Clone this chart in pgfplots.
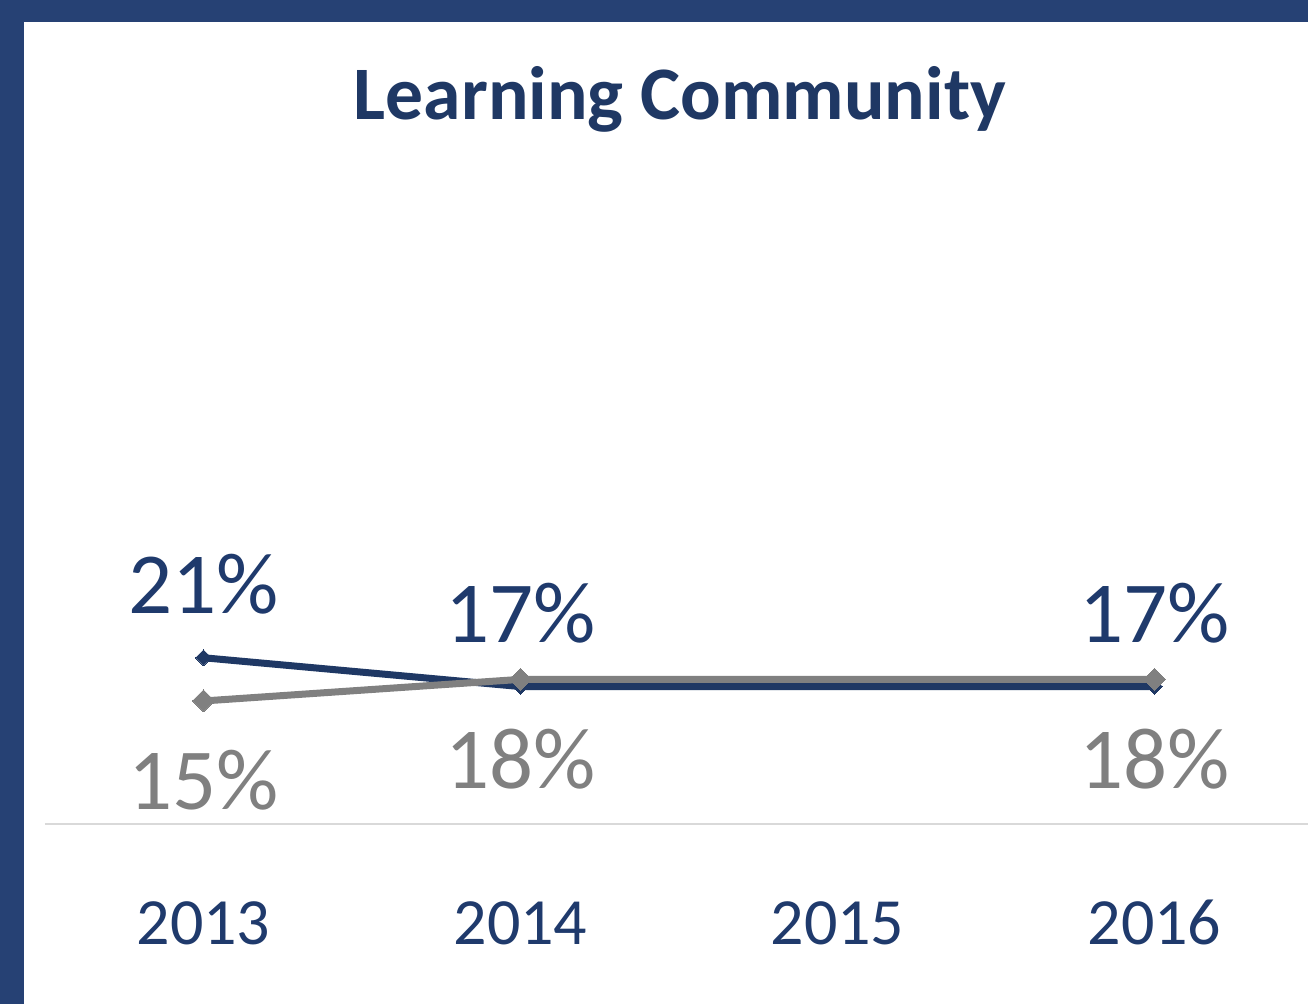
\documentclass[border=0pt]{standalone}
\usepackage{fontspec}
\setmainfont{Carlito}
\usepackage{pgfplots}
\pgfplotsset{compat=1.18}
\definecolor{frame}{HTML}{264174}
\definecolor{navy}{HTML}{1F3864}
\definecolor{navytxt}{HTML}{1F3A6C}
\definecolor{grayline}{HTML}{808080}
\definecolor{axisgray}{HTML}{D9D9D9}
\begin{document}
\begin{tikzpicture}
\useasboundingbox (0,0) rectangle (654pt,502pt);
\fill[frame] (0,0) rectangle (654pt,502pt);
\fill[white] (12pt,0) rectangle (654pt,491pt);
\node[anchor=base, text=navy, inner sep=0pt, font=\fontsize{37.8}{44}\selectfont\bfseries] at (340pt,442pt) {Learning Community};
\begin{axis}[
  at={(22.5pt,90pt)}, anchor=south west, scale only axis,
  width=634pt, height=337pt,
  xmin=-0.5, xmax=3.5, ymin=-2.08, ymax=91.5,
  axis x line=bottom, axis y line=none,
  axis line style={axisgray, line width=1pt, -},
  xtick={0,1,2,3}, xticklabels={2013,2014,2015,2016},
  major tick length=0pt,
  xticklabel style={anchor=base, yshift=-60.5pt, inner sep=0pt, text=navytxt, font=\fontsize{33}{40}\selectfont},
  clip=false,
  nodes near coords={\pgfmathprintnumber[assume math mode=true]{\pgfplotspointmeta}\%},
]
\addplot[navy, line width=3.5pt, mark=square*, mark size=2.8pt,
  mark options={rotate=45, fill=navy, draw=navy, line width=0pt},
  nodes near coords style={anchor=base, yshift=22pt, inner sep=0pt, text=navytxt, font=\fontsize{43.5}{50}\selectfont}]
  coordinates {(0,21) (1,17) (3,17)};
\addplot[grayline, line width=3.5pt, mark=square*, mark size=3.9pt,
  mark options={rotate=45, fill=grayline, draw=grayline, line width=0pt},
  nodes near coords style={anchor=base, yshift=-54.5pt, inner sep=0pt, text=grayline, font=\fontsize{43.5}{50}\selectfont}]
  coordinates {(0,15) (1,18) (3,18)};
\end{axis}
\end{tikzpicture}
\end{document}
